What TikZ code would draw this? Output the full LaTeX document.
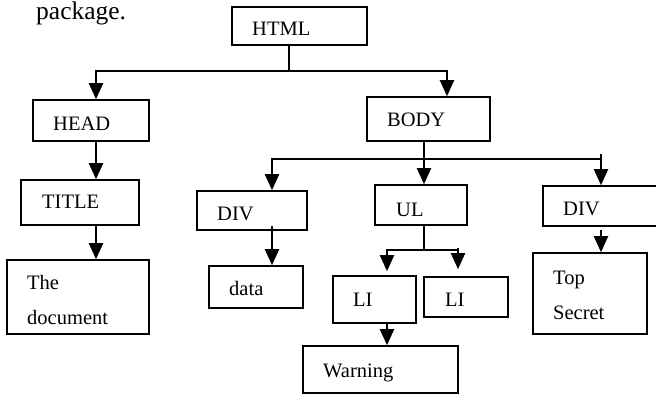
\documentclass[tikz,border=0pt]{standalone}
\usepackage{fontspec}
\setmainfont{Liberation Serif}
\usetikzlibrary{arrows.meta}
\begin{document}
\begin{tikzpicture}[x=1pt,y=-1pt,
  box/.style={draw,line width=1.6pt,inner sep=0pt,rectangle},
  txt/.style={anchor=base west,inner sep=0pt,font=\fontsize{20.5}{24}\selectfont},
  ln/.style={line width=2pt},
  arr/.style={line width=2pt,-{Triangle[length=16pt,width=14pt]}}]
\useasboundingbox (0,0) rectangle (656,394);
\clip (0,0) rectangle (656,394);
% boxes
\node[box,minimum width=135pt,minimum height=38pt] (html) at (299.5,26) {};
\node[box,minimum width=116pt,minimum height=41pt] (head) at (91,120.5) {};
\node[box,minimum width=118pt,minimum height=45pt] (title) at (80,202.5) {};
\node[box,minimum width=142pt,minimum height=74pt] (doc) at (78,297) {};
\node[box,minimum width=123pt,minimum height=44pt] (body) at (428.5,119) {};
\node[box,minimum width=110pt,minimum height=39pt] (diva) at (252,210.5) {};
\node[box,minimum width=94pt,minimum height=42pt] (data) at (256,287) {};
\node[box,minimum width=92pt,minimum height=40pt] (ul) at (421,205) {};
\node[box,minimum width=83pt,minimum height=47pt] (lia) at (374.5,299.5) {};
\node[box,minimum width=84pt,minimum height=40pt] (lib) at (466,297) {};
\node[box,minimum width=155pt,minimum height=47pt] (warn) at (380.5,369.5) {};
\node[box,minimum width=127pt,minimum height=40pt] (divb) at (606.5,206) {};
\node[box,minimum width=114pt,minimum height=81pt] (top) at (590,293.5) {};
% texts
\node[txt,font=\fontsize{25.5}{30}\selectfont] (pkg) at (36,19.5) {package.};
\node[txt] (thtml) at (252,35) {HTML};
\node[txt] (thead) at (53,130) {HEAD};
\node[txt] (ttitle) at (42,208) {TITLE};
\node[txt] (tthe) at (27,289) {The};
\node[txt] (tdoc) at (27,324) {document};
\node[txt] (tbody) at (387,126) {BODY};
\node[txt] (tdiva) at (217,220) {DIV};
\node[txt] (tdata) at (229,295) {data};
\node[txt] (tul) at (396,216) {UL};
\node[txt] (tdivb) at (563,215) {DIV};
\node[txt] (tlia) at (353,306) {LI};
\node[txt] (tlib) at (445,306) {LI};
\node[txt] (ttop) at (553,284) {Top};
\node[txt] (tsec) at (553,319) {Secret};
\node[txt] (twarn) at (323,377) {Warning};
% junctions
\coordinate (j1) at (289,71);
\coordinate (j2) at (424,159);
\coordinate (j3) at (424,250);
\coordinate (r2) at (601,154);
% connectors
\draw[ln] (j1 |- html.south) -- (j1);
\draw[arr] (j1) -| ([xshift=5pt]head.north);
\draw[arr] (j1) -| ([xshift=18.5pt]body.north);
\draw[arr] ([xshift=5pt]head.south) -- ([xshift=16pt]title.north);
\draw[arr] ([xshift=16pt]title.south) -- ([xshift=18pt]doc.north);
\draw[ln] (j2 |- body.south) -- (j2);
\draw[arr] (j2) -- ([xshift=3pt]ul.north);
\draw[arr] (j2) -| ([xshift=20pt]diva.north);
\draw[ln] (j2) -- (j2 -| r2);
\draw[arr] (r2) -- ([xshift=-5.5pt]divb.north);
\draw[arr] ([xshift=20pt,yshift=5pt]diva.south) -- ([xshift=16pt]data.north);
\draw[ln] (j3 |- ul.south) -- (j3);
\draw[arr,shorten >=4pt] (j3) -| ([xshift=12.5pt]lia.north);
\draw[ln] (j3) -- (458,250);
\draw[arr,shorten >=7pt] (458,248) -- ([xshift=-8pt]lib.north);
\draw[arr] ([xshift=12.5pt]lia.south) -- ([xshift=6.5pt]warn.north);
\draw[arr] ([xshift=-5.5pt,yshift=-3pt]divb.south) -- ([xshift=11pt]top.north);
\end{tikzpicture}
\end{document}
